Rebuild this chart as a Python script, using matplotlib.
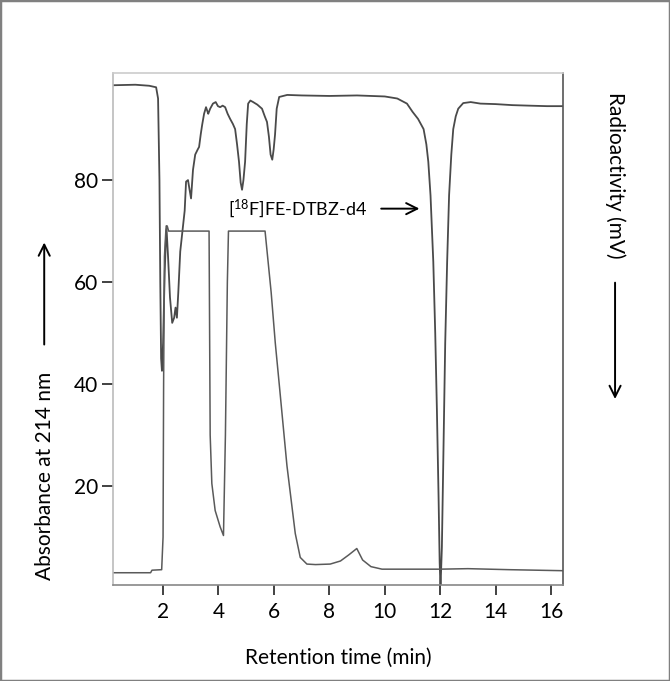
import numpy as np
import matplotlib
matplotlib.use('Agg')
import matplotlib.pyplot as plt
from matplotlib.patches import Rectangle

plt.rcParams['font.family'] = ['Lato', 'DejaVu Sans']
plt.rcParams['mathtext.fontset'] = 'custom'
plt.rcParams['mathtext.rm'] = 'Lato'

# Radioactivity trace (inverted detector, read on the left scale)
radio_t = [0.2, 1.0, 1.5, 1.75, 1.82, 1.87, 1.9, 1.93, 1.96, 2.0, 2.06, 2.12, 2.18, 2.25,
           2.33, 2.4, 2.45, 2.5, 2.55, 2.62, 2.7, 2.78, 2.83, 2.9, 2.96, 3.01, 3.08, 3.16,
           3.25, 3.3, 3.36, 3.41, 3.48, 3.55, 3.6, 3.63, 3.7, 3.8, 3.9, 3.98, 4.06, 4.15,
           4.24, 4.33, 4.42, 4.52, 4.6, 4.67, 4.74, 4.8, 4.85, 4.9, 4.96, 5.02, 5.07, 5.15,
           5.25, 5.4, 5.57, 5.67, 5.75, 5.82, 5.88, 5.94, 5.99, 6.04, 6.1, 6.19, 6.48, 7.0,
           8.0, 9.0, 10.0, 10.45, 10.8, 11.0, 11.2, 11.4, 11.5, 11.57, 11.65, 11.7, 11.75,
           11.82, 11.88, 11.94, 11.98, 12.01, 12.06, 12.12, 12.18, 12.25, 12.32, 12.4,
           12.47, 12.56, 12.65, 12.83, 13.1, 13.45, 14.0, 14.6, 15.2, 15.85, 16.43]
radio_v = [98.6, 98.7, 98.5, 98.2, 96, 80, 60, 45, 42.6, 48, 62, 71, 65, 57,
           52, 53, 55, 53, 58, 66, 70, 74, 79.7, 80, 78, 76.4, 82, 85,
           86, 86.5, 89, 90.8, 93, 94.3, 93.5, 93, 94, 95, 95.3, 94.5, 94.3, 94.6,
           94.3, 93, 92, 91, 90, 87, 83.6, 79.5, 78.1, 80, 83.6, 91, 95, 95.6,
           95.3, 94.8, 94, 92.5, 91.4, 88.5, 85, 84, 86, 88.9, 94, 96.3, 96.7, 96.6,
           96.5, 96.6, 96.4, 96.0, 95, 93.4, 92, 90, 87, 83.6, 77, 70.5, 64,
           50, 35, 18, 5, 0.0, 8, 28, 48, 64, 77, 85,
           90, 92.5, 94, 95.1, 95.3, 95, 94.9, 94.7, 94.6, 94.5, 94.5]

# UV absorbance trace at 214 nm (clipped at ~70)
uv_t = [0.2, 1.0, 1.55, 1.6, 1.95, 2.0, 2.02, 2.05, 2.1, 2.15, 2.2, 3.66, 3.7, 3.76,
        3.88, 4.06, 4.18, 4.25, 4.32, 4.36, 5.68, 5.9, 6.05, 6.2, 6.47, 6.77, 6.95,
        7.19, 7.5, 8.03, 8.4, 8.7, 8.99, 9.2, 9.5, 9.9, 11.0, 12.0, 13.0, 14.5, 16.43]
uv_v = [3.0, 3.0, 3.0, 3.5, 3.6, 10, 40, 65, 70, 71, 70, 70, 30, 20.5,
        15.2, 12, 10.3, 30, 60, 70, 70, 58, 48, 39.5, 24, 10.7, 6,
        4.7, 4.6, 4.7, 5.3, 6.5, 7.75, 5.5, 4.2, 3.7, 3.7, 3.7, 3.8, 3.6, 3.4]

x_ticks = [2, 4, 6, 8, 10, 12, 14, 16]
y_ticks = [20, 40, 60, 80]

fig = plt.figure(figsize=(6.7, 6.81), dpi=100)
ax = fig.add_axes([0.1687, 0.141, 0.6716, 0.7518])

ax.plot(radio_t, radio_v, color='#4a4a4a', lw=1.3)
ax.plot(uv_t, uv_v, color='#5a5a5a', lw=1.1)

ax.set_xlim(0.195, 16.43)
ax.set_ylim(0.6, 101)
ax.set_xticks(x_ticks)
ax.set_yticks(y_ticks)
ax.tick_params(axis='x', direction='out', length=7, width=1.3, color='#333333',
               labelsize=15, pad=5)
ax.tick_params(axis='y', direction='out', length=8, width=1.3, color='#333333',
               labelsize=15, pad=3)

ax.spines['left'].set_color('#bbbbbb')
ax.spines['top'].set_color('#cccccc')
ax.spines['right'].set_color('#555555')
ax.spines['bottom'].set_color('#888888')
for s in ax.spines.values():
    s.set_linewidth(1.2)

ax.set_xlabel('Retention time (min)', fontsize=15, labelpad=19)

head = '->,head_length=0.8,head_width=0.4'

# compound label and arrow
ax.text(4.35, 74.4, r'[$\mathregular{^{18}}$F]FE-DTBZ-d4', fontsize=13,
        va='center', ha='left')
ax.annotate('', xy=(11.35, 74.4), xytext=(9.77, 74.4),
            arrowprops=dict(arrowstyle=head, color='black', lw=1.4))

# left axis label with arrow
fig.text(0.067, 0.301, 'Absorbance at 214 nm', rotation=90, fontsize=15,
         ha='center', va='center')
ax.annotate('', xy=(0.066, 0.648), xytext=(0.066, 0.490), xycoords='figure fraction',
            textcoords='figure fraction',
            arrowprops=dict(arrowstyle=head, color='black', lw=1.4))

# right axis label with arrow
fig.text(0.918, 0.742, 'Radioactivity (mV)', rotation=-90, fontsize=15,
         ha='center', va='center')
ax.annotate('', xy=(0.918, 0.410), xytext=(0.918, 0.589), xycoords='figure fraction',
            textcoords='figure fraction',
            arrowprops=dict(arrowstyle=head, color='black', lw=1.4))

# grey frame round the whole picture
fig.patches.append(Rectangle((0, 0), 1, 1, transform=fig.transFigure, fill=False,
                             edgecolor='#808080', lw=2.5))

plt.savefig('out.png', dpi=100)
